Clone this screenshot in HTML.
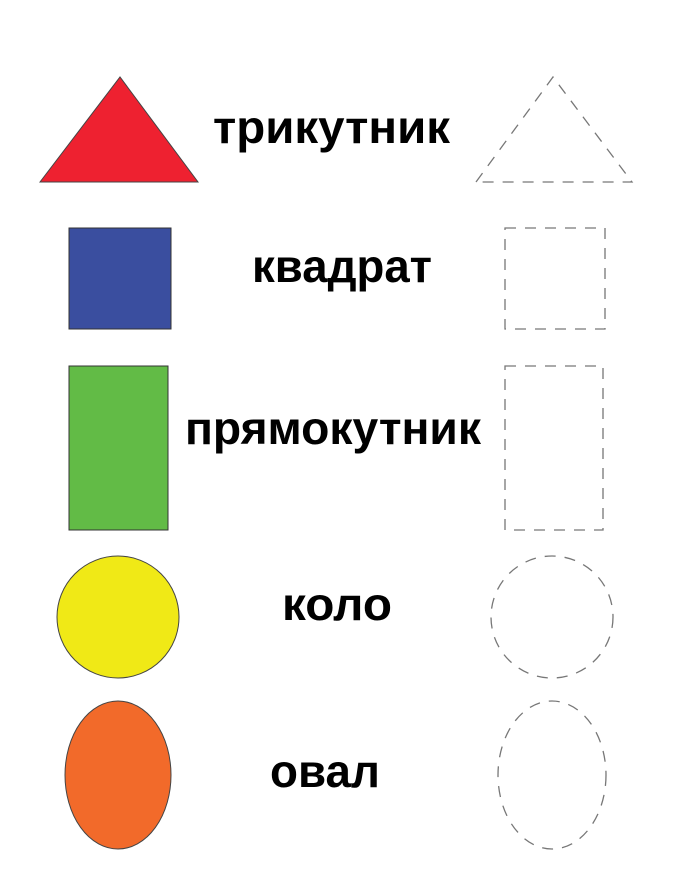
<!DOCTYPE html>
<html><head><meta charset="utf-8"><style>
html,body{margin:0;padding:0;background:#fff;width:677px;height:878px;overflow:hidden}
text{font-family:"Liberation Sans","DejaVu Sans",sans-serif;font-weight:bold;fill:#000}
.d{fill:none;stroke:#777;stroke-width:1.3;stroke-dasharray:11 9}
</style></head><body>
<svg width="677" height="878" viewBox="0 0 677 878">
<polygon points="40,182 120,77 198,182" fill="#ee2130" stroke="#444" stroke-width="1"/>
<text x="213" y="143" font-size="46" textLength="237" lengthAdjust="spacingAndGlyphs">трикутник</text>
<polygon class="d" points="476,182 553,77 632,182"/>

<rect x="69" y="228" width="102" height="101" fill="#3a4e9f" stroke="#333" stroke-width="1"/>
<text x="252" y="282" font-size="46" textLength="180" lengthAdjust="spacingAndGlyphs">квадрат</text>
<rect class="d" x="505" y="228" width="100" height="101"/>

<rect x="69" y="366" width="99" height="164" fill="#62bb46" stroke="#333" stroke-width="1"/>
<text x="185" y="444" font-size="46" textLength="296" lengthAdjust="spacingAndGlyphs">прямокутник</text>
<rect class="d" x="505" y="366" width="98" height="164"/>

<circle cx="118" cy="617" r="61" fill="#f0e916" stroke="#444" stroke-width="1"/>
<text x="282" y="620" font-size="46" textLength="110" lengthAdjust="spacingAndGlyphs">коло</text>
<circle class="d" cx="552" cy="617" r="61"/>

<ellipse cx="118" cy="775" rx="53" ry="74" fill="#f26a2a" stroke="#444" stroke-width="1"/>
<text x="270" y="787" font-size="46" textLength="110" lengthAdjust="spacingAndGlyphs">овал</text>
<ellipse class="d" cx="552" cy="775" rx="54" ry="74"/>
</svg>
</body></html>
